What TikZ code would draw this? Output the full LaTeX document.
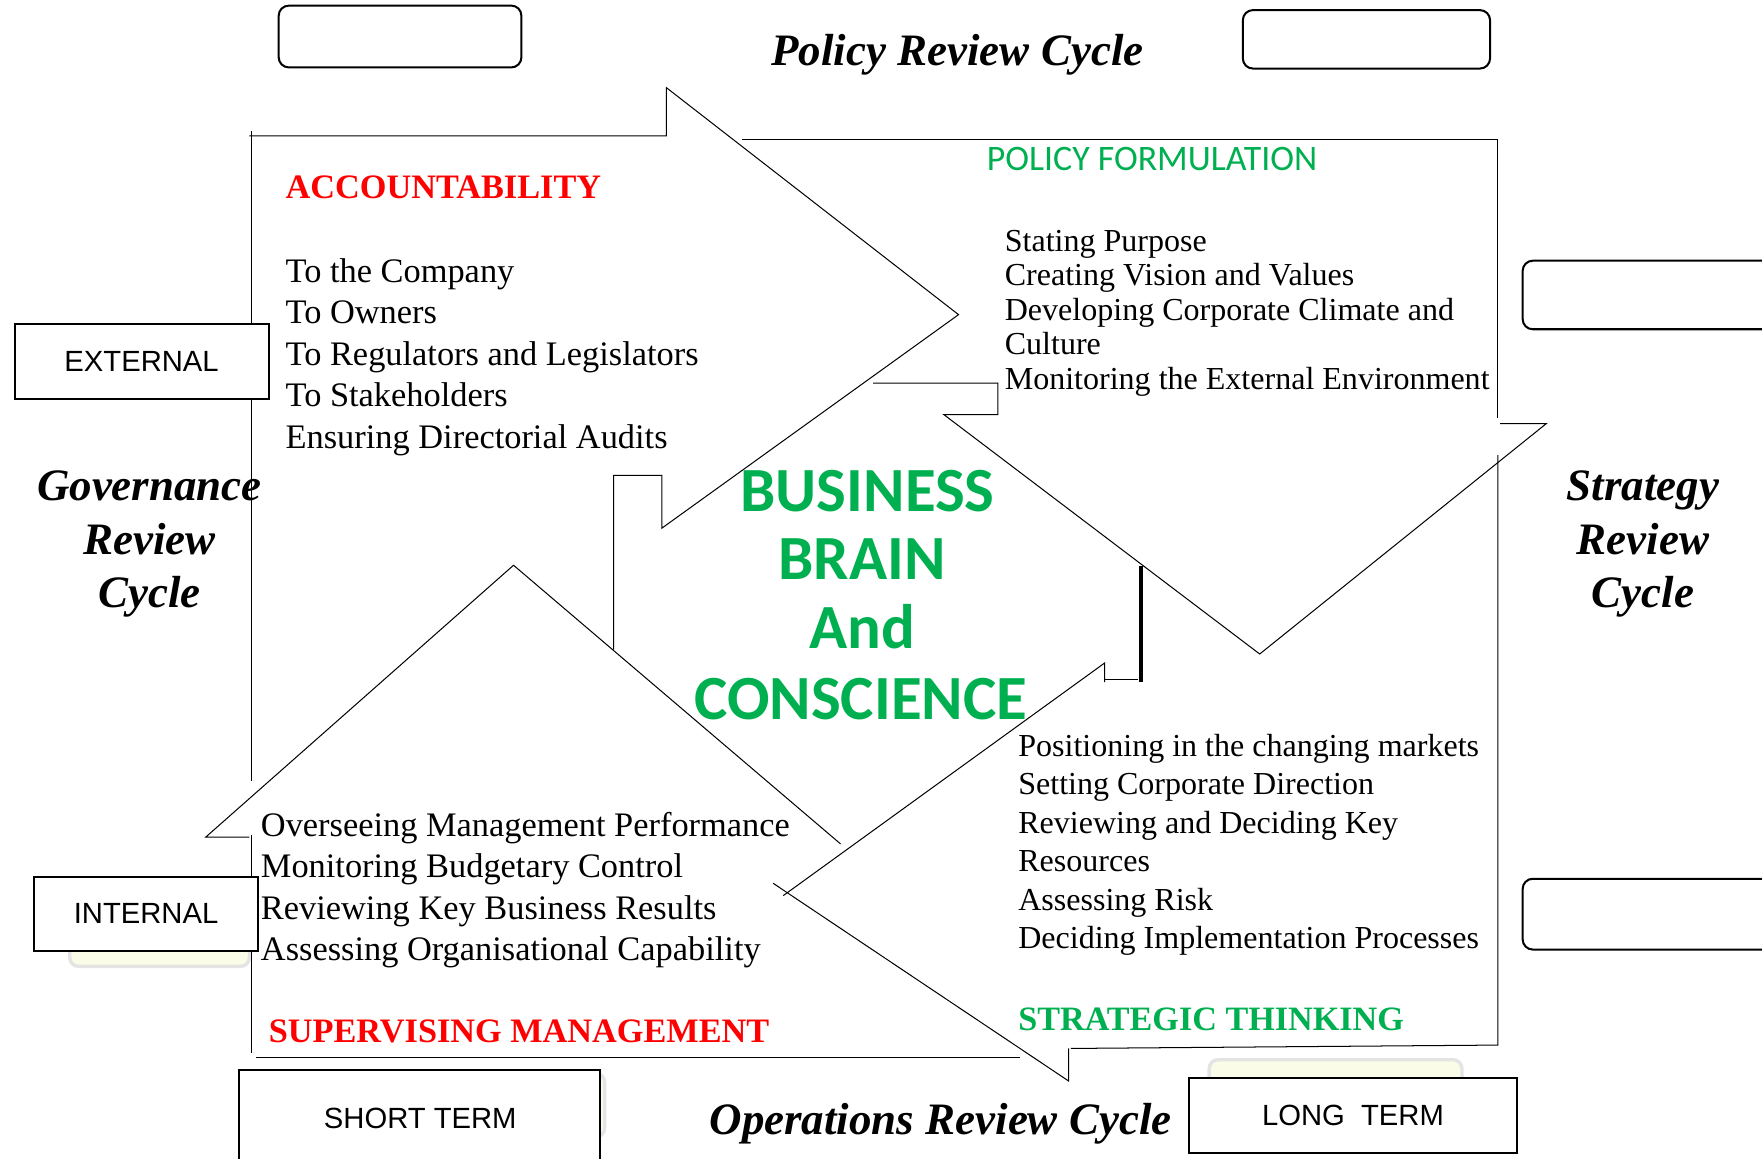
\documentclass[tikz,border=0pt]{standalone}
\usepackage{fontspec}
\setmainfont{Liberation Serif}
\newfontfamily\calibri{Carlito}
\newfontfamily\arial{Liberation Sans}
\definecolor{headred}{HTML}{FF0000}
\definecolor{headgreen}{HTML}{00B050}
\definecolor{shadowfill}{HTML}{FAFCE8}
\definecolor{shadowline}{HTML}{E4E4E4}

\begin{document}
\begin{tikzpicture}[x=1pt,y=-1pt,
  edge/.style={draw=black, line width=0.9pt},
  thickedge/.style={draw=black, line width=3.5pt},
  rbox/.style={draw=black, line width=1.8pt, rounded corners=9pt, fill=white, inner sep=0pt},
  sbox/.style={draw=black, line width=1.8pt, fill=white, inner sep=0pt, font=\arial\fontsize{26}{30}\selectfont},
  shadowbox/.style={draw=shadowline, line width=3pt, fill=shadowfill, rounded corners=8pt},
  body/.style={inner sep=0pt, anchor=base west, font=\fontsize{30.6}{37}\selectfont},
  bodysmall/.style={inner sep=0pt, anchor=base west, font=\fontsize{28.5}{31}\selectfont},
  redhead/.style={inner sep=0pt, anchor=base west, text=headred, font=\bfseries\fontsize{30.5}{36}\selectfont},
  greenhead/.style={inner sep=0pt, anchor=base west, text=headgreen, font=\bfseries\fontsize{30.4}{36}\selectfont},
  cycletitle/.style={inner sep=0pt, anchor=base, font=\bfseries\itshape\fontsize{40}{48}\selectfont},
  brain/.style={inner sep=0pt, anchor=base, text=headgreen, font=\calibri\bfseries\fontsize{56}{61}\selectfont}
]
\useasboundingbox (0,0) rectangle (1568,1031);
\clip (0,0) rectangle (1568,1031);

% faint backing boxes behind the term labels
\path[shadowbox] (62,795) rectangle (222,860);
\path[shadowbox] (1076,943) rectangle (1301,1000);
\path[shadowbox] (230,955) rectangle (538,1012);

% empty rounded boxes
\node[rbox, minimum width=216, minimum height=55] (boxtl) at (356,32.5) {};
\node[rbox, minimum width=220, minimum height=52] (boxtr) at (1216,35) {};
\node[rbox, minimum width=230, minimum height=61] (boxr1) at (1470,262.5) {};
\node[rbox, minimum width=230, minimum height=63] (boxr2) at (1470,813.5) {};

% accountability arrow (pointing right)
\draw[edge] (222,121) -- (593,121) -- (593,78) -- (853,280) -- (589,470) -- (589,423) -- (546,423) -- (546,578);
\draw[edge] (224,117) -- (224,695);

% policy formulation arrow (pointing down)
\draw[edge] (660,124) -- (1333,124) -- (1333,372);
\draw[edge] (1335,377) -- (1376,377) -- (1121,582) -- (840,369) -- (888,369) -- (888,341) -- (777,341);

% strategic thinking arrow (pointing left)
\draw[edge] (1333,405) -- (1333,930) -- (953,933);
\draw[edge] (951,933) -- (951,962) -- (688,786);
\draw[edge] (697,797) -- (983,590) -- (983,607);
\draw[edge] (983,605) -- (1013,605);
\draw[thickedge] (1015,504) -- (1015,607);

% supervising management arrow (pointing up)
\draw[edge] (748,751) -- (457,503) -- (183,745) -- (222,745);
\draw[edge] (224,743) -- (224,937);
\draw[edge] (228,941) -- (908,941);

% side labels
\node[sbox, minimum width=226, minimum height=67] (ext) at (126,321.5) {EXTERNAL};
\node[sbox, minimum width=200, minimum height=66] (int) at (130,813) {INTERNAL};
\node[sbox, minimum width=321, minimum height=100] (short) at (373.5,1002) {};
\node[inner sep=0pt, anchor=base, font=\arial\fontsize{26}{30}\selectfont] (shortlbl) at (374,1004) {SHORT TERM};
\node[sbox, minimum width=292, minimum height=67] (long) at (1204,992.5) {LONG\ \ TERM};

% cycle titles
\node[cycletitle] (policycycle) at (852,58) {Policy Review Cycle};
\node[cycletitle] (opscycle) at (837,1010) {Operations Review Cycle};
\node[cycletitle] (gov1) at (133,445) {Governance};
\node[cycletitle] (gov2) at (133,493) {Review};
\node[cycletitle] (gov3) at (133,541) {Cycle};
\node[cycletitle] (str1) at (1462,445) {Strategy};
\node[cycletitle] (str2) at (1462,493) {Review};
\node[cycletitle] (str3) at (1462,541) {Cycle};

% accountability
\node[redhead] (acchead) at (254,177) {ACCOUNTABILITY};
\foreach \t [count=\i] in {To the Company, To Owners, To Regulators and Legislators, To Stakeholders, Ensuring Directorial Audits}
  \node[body] (acc\i) at (254,{251+(\i-1)*37}) {\t};

% policy formulation
\node[inner sep=0pt, anchor=base west, text=headgreen, font=\calibri\fontsize{31.9}{36}\selectfont] (polhead) at (878,152) {POLICY FORMULATION};
\foreach \t [count=\i] in {Stating Purpose, Creating Vision and Values, Developing Corporate Climate and, Culture, Monitoring the External Environment}
  \node[bodysmall] (pol\i) at (894,{223.5+(\i-1)*30.75}) {\t};

% centre
\node[brain] (brain1) at (772,455) {BUSINESS};
\node[brain] (brain2) at (767,516) {BRAIN};
\node[brain] (brain3) at (767,577) {And};
\node[brain] (brain4) at (766,640) {CONSCIENCE};

% strategic thinking
\foreach \t [count=\i] in {Positioning in the changing markets, Setting Corporate Direction, Reviewing and Deciding Key, Resources, Assessing Risk, Deciding Implementation Processes}
  \node[bodysmall] (strat\i) at (906,{673+(\i-1)*34.2}) {\t};
\node[greenhead] (strathead) at (906,917) {STRATEGIC THINKING};

% supervising management
\foreach \t [count=\i] in {Overseeing Management Performance, Monitoring Budgetary Control, Reviewing Key Business Results, Assessing Organisational Capability}
  \node[body] (sup\i) at (232,{744+(\i-1)*37}) {\t};
\node[redhead] (suphead) at (239,928) {SUPERVISING MANAGEMENT};
\end{tikzpicture}
\end{document}
